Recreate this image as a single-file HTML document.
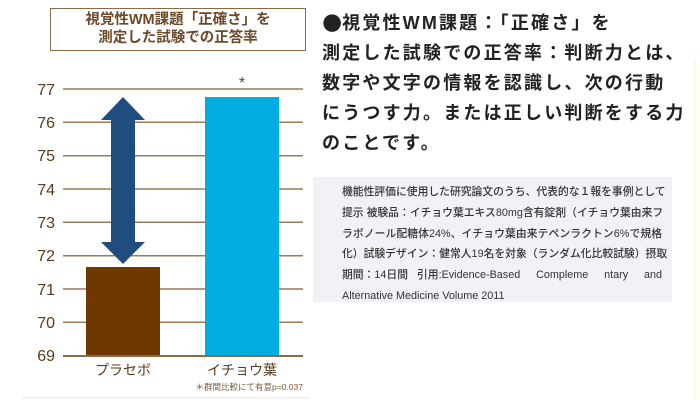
<!DOCTYPE html>
<html><head><meta charset="utf-8"><style>
body{margin:0;width:700px;height:400px;background:#fff;position:relative;overflow:hidden;font-family:"Liberation Sans","Noto Sans CJK JP",sans-serif}
.a{position:absolute}
.j{text-align:justify;text-align-last:justify;white-space:nowrap;height:20.8px}
</style></head><body>
<div class="a" style="left:50px;top:8px;width:256px;height:43px;border:1.5px solid #8a6a4a;color:#6b4a2a;font-weight:bold;font-size:14.5px;line-height:18px;text-align:center;padding-top:2px;box-sizing:border-box">視覚性WM課題「正確さ」を<br>測定した試験での正答率</div>
<svg class="a" style="left:0;top:0" width="310" height="400">
<g stroke="#9a7a5a" stroke-width="1.5">
<line x1="63" x2="303" y1="89" y2="89"/><line x1="63" x2="303" y1="122.3" y2="122.3"/><line x1="63" x2="303" y1="155.7" y2="155.7"/><line x1="63" x2="303" y1="189" y2="189"/><line x1="63" x2="303" y1="222.3" y2="222.3"/><line x1="63" x2="303" y1="255.7" y2="255.7"/><line x1="63" x2="303" y1="289" y2="289"/><line x1="63" x2="303" y1="322.3" y2="322.3"/>
</g>
<rect x="86" y="267" width="74" height="89" fill="#6e3800"/>
<rect x="205" y="97" width="74" height="259" fill="#00ade0"/>
<line x1="63" x2="303" y1="356" y2="356" stroke="#8a6a4a" stroke-width="2"/>
<polygon points="123,97 145,120 135,120 135,242 145,242 123,264 101,242 111,242 111,120 101,120" fill="#1f4e7e"/>
<g fill="#5a3a1a" font-size="16" text-anchor="end" font-family="Liberation Sans,sans-serif">
<text x="55" y="95">77</text><text x="55" y="128">76</text><text x="55" y="161">75</text><text x="55" y="195">74</text><text x="55" y="228">73</text><text x="55" y="261">72</text><text x="55" y="295">71</text><text x="55" y="328">70</text><text x="55" y="361">69</text>
</g>
<text x="242" y="88" text-anchor="middle" fill="#6b4a2a" font-size="16">*</text>
<g fill="#5a3a1a" font-size="14" text-anchor="middle" font-family="Liberation Sans,Noto Sans CJK JP,sans-serif">
<text x="123" y="375">プラセボ</text><text x="242" y="375">イチョウ葉</text>
</g>
<text x="303" y="390" text-anchor="end" fill="#7a5a3a" font-size="8.5" font-family="Liberation Sans,Noto Sans CJK JP,sans-serif">＊群間比較にて有意p=0.037</text>
<line x1="22" x2="310" y1="398" y2="398" stroke="#eee" stroke-width="1.5"/>
</svg>
<div class="a" style="left:322px;top:7px;width:380px;font-size:18px;font-weight:bold;line-height:30px;letter-spacing:2.2px;color:#222"><span style="font-size:23px;letter-spacing:0;font-family:'DejaVu Sans',sans-serif">●</span>視覚性WM課題：「正確さ」を<br>測定した試験での正答率：判断力とは、<br>数字や文字の情報を認識し、次の行動<br>にうつす力。または正しい判断をする力<br>のことです。</div>
<div class="a" style="left:313px;top:177px;width:359px;height:125px;background:#f1f2f6;box-sizing:border-box;padding:5px 10px 0 29px;font-size:10.8px;line-height:20.8px;color:#333;font-weight:500">
<div class="j">機能性評価に使用した研究論文のうち、代表的な１報を事例として</div>
<div class="j">提示 被験品：イチョウ葉エキス80mg含有錠剤（イチョウ葉由来フ</div>
<div class="j">ラボノール配糖体24%、イチョウ葉由来テペンラクトン6%で規格</div>
<div class="j">化）試験デザイン：健常人19名を対象（ランダム化比較試験）摂取</div>
<div style="display:flex;justify-content:space-between;height:20.8px;white-space:nowrap"><span>期間：14日間&nbsp;&nbsp;&nbsp;引用:Evidence-Based</span><span>Compleme</span><span>ntary</span><span>and</span></div>
<div>Alternative Medicine Volume 2011</div>
</div>
<div class="a" style="left:694px;top:60px;width:2px;height:340px;background:#fdf8e0"></div>
</body></html>
